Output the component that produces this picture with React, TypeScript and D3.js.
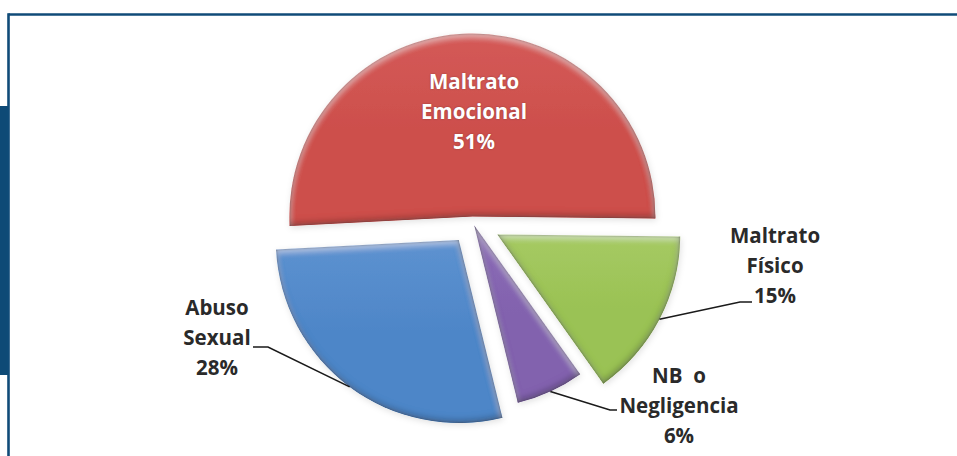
import React from "react";
import * as d3 from "d3";

// ---- data ----
const categories = ["Maltrato Emocional", "Maltrato Físico", "NB o Negligencia", "Abuso Sexual"];
const values = [51, 15, 6, 28];
const labelWords = [["Maltrato", "Emocional"], ["Maltrato", "Físico"], ["NB  o", "Negligencia"], ["Abuso", "Sexual"]];

// ---- layout / style ----
const W = 957, H = 456;
const CX = 472.5, CY = 221.5, R = 183;
const START = (-93 * Math.PI) / 180;
const explode = [5, 28, 4, 23];
const colors = ["#CD4F4C", "#9AC254", "#8262AE", "#4E86C8"];
const lightColors = ["#D45A57", "#A6CA63", "#8C6DB7", "#5D92D0"];
const inside = [true, false, false, false];
// outside label anchors: text centre x, first baseline y, elbow point, end point
const outLabel: Record<number, { tx: number; ty: number; elbow: [number, number]; end: [number, number] }> = {
  1: { tx: 775, ty: 243, elbow: [740, 302], end: [752, 302] },
  2: { tx: 679, ty: 383, elbow: [610, 410], end: [617, 410] },
  3: { tx: 217, ty: 315, elbow: [268, 347], end: [253, 347] },
};
const LINE_H = 30;
const FONT = "'Open Sans', 'DejaVu Sans', sans-serif";

export default function App() {
  const pie = d3.pie<number>().sort(null).startAngle(START).endAngle(START + 2 * Math.PI);
  const arcs = pie(values);
  const arcGen = d3.arc<d3.PieArcDatum<number>>().innerRadius(0).outerRadius(R);

  return (
    <svg width={W} height={H} style={{ position: "absolute", left: 0, top: 0, background: "#fff" }}>
      <defs>
        <filter id="bevel" x="-10%" y="-10%" width="120%" height="120%">
          <feGaussianBlur in="SourceAlpha" stdDeviation="3" result="b" />
          <feOffset in="b" dx="-1" dy="-3.5" result="bUp" />
          <feComposite in="SourceAlpha" in2="bUp" operator="arithmetic" k2="1" k3="-1" result="shMask" />
          <feFlood floodColor="#000" floodOpacity="0.55" />
          <feComposite in2="shMask" operator="in" result="shadow" />
          <feOffset in="b" dx="0" dy="3" result="bDown" />
          <feComposite in="SourceAlpha" in2="bDown" operator="arithmetic" k2="1" k3="-1" result="hlMask" />
          <feFlood floodColor="#fff" floodOpacity="0.45" />
          <feComposite in2="hlMask" operator="in" result="hl" />
          <feGaussianBlur in="SourceAlpha" stdDeviation="1" result="b1" />
          <feComposite in="SourceAlpha" in2="b1" operator="arithmetic" k2="1" k3="-1" result="edgeMask" />
          <feFlood floodColor="#000" floodOpacity="0.8" />
          <feComposite in2="edgeMask" operator="in" result="edge" />
          <feMerge>
            <feMergeNode in="SourceGraphic" />
            <feMergeNode in="hl" />
            <feMergeNode in="shadow" />
            <feMergeNode in="edge" />
          </feMerge>
        </filter>
        <filter id="drop" x="-10%" y="-10%" width="120%" height="120%">
          <feGaussianBlur in="SourceAlpha" stdDeviation="3" />
          <feOffset dx="1" dy="2" result="o" />
          <feFlood floodColor="#000" floodOpacity="0.12" />
          <feComposite in2="o" operator="in" />
        </filter>
        {colors.map((c, i) => (
          <linearGradient key={i} id={`g${i}`} x1="0" y1="0" x2="0" y2="1">
            <stop offset="0" stopColor={lightColors[i]} />
            <stop offset="0.5" stopColor={c} />
            <stop offset="1" stopColor={c} />
          </linearGradient>
        ))}
      </defs>

      {/* frame */}
      <rect x={0} y={106} width={8.5} height={269} fill="#0E4A76" />
      <line x1={8.5} y1={14.5} x2={W} y2={14.5} stroke="#104B78" strokeWidth={2.6} />
      <line x1={8.5} y1={13.2} x2={8.5} y2={H} stroke="#104B78" strokeWidth={2.6} />

      {arcs.map((a, i) => {
        const mid = (a.startAngle + a.endAngle) / 2;
        const ox = CX + explode[i] * Math.sin(mid);
        const oy = CY - explode[i] * Math.cos(mid);
        return (
          <g key={categories[i]} transform={`translate(${ox},${oy})`}>
            <path d={arcGen(a) || ""} filter="url(#drop)" />
            <path d={arcGen(a) || ""} fill={`url(#g${i})`} filter="url(#bevel)" />
          </g>
        );
      })}

      {arcs.map((a, i) => {
        const mid = (a.startAngle + a.endAngle) / 2;
        const ox = CX + explode[i] * Math.sin(mid);
        const oy = CY - explode[i] * Math.cos(mid);
        const lines = [...labelWords[i], `${values[i]}%`];
        if (inside[i]) {
          const rr = R * 0.615;
          const x = ox + rr * Math.sin(mid) + 4;
          const y = oy - rr * Math.cos(mid);
          return (
            <text key={i} x={x} y={y - 15} textAnchor="middle" fontFamily={FONT} fontWeight={700}
              fontSize={20.5} fill="#fff" style={{ textShadow: "0 0 2px rgba(0,0,0,0.3)" }}>
              {lines.map((l, k) => (
                <tspan key={k} x={x} dy={k === 0 ? 0 : LINE_H}>{l}</tspan>
              ))}
            </text>
          );
        }
        const L = outLabel[i];
        const sx = ox + R * Math.sin(mid);
        const sy = oy - R * Math.cos(mid);
        return (
          <g key={i}>
            <polyline points={`${sx},${sy} ${L.elbow[0]},${L.elbow[1]} ${L.end[0]},${L.end[1]}`}
              fill="none" stroke="#1a1a1a" strokeWidth={1.6} />
            <text x={L.tx} y={L.ty} textAnchor="middle" fontFamily={FONT} fontWeight={700}
              fontSize={20.5} fill="#2a2a2a" style={{ whiteSpace: "pre" }}>
              {lines.map((l, k) => (
                <tspan key={k} x={L.tx} dy={k === 0 ? 0 : LINE_H}>{l}</tspan>
              ))}
            </text>
          </g>
        );
      })}
    </svg>
  );
}
